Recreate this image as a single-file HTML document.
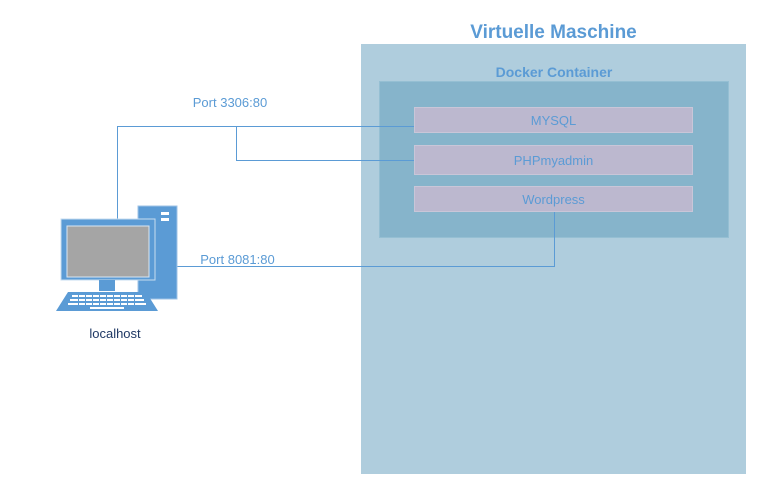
<!DOCTYPE html>
<html><head><style>
body{margin:0;width:779px;height:504px;background:#fff;position:relative;font-family:"Liberation Sans",sans-serif;overflow:hidden}
div{position:absolute;box-sizing:border-box}
.t{color:#5b9bd5;text-align:center;font-size:13px}
.b{background:#bcb8cf;border:1px solid #c9c6d8;display:flex;align-items:center;justify-content:center;color:#5b9bd5;font-size:13px}
</style></head><body>
<div class="t" style="left:361px;top:22px;width:385px;font-size:19px;font-weight:bold">Virtuelle Maschine</div>
<div style="left:361px;top:44px;width:385px;height:430px;background:#afcddd"></div>
<div class="t" style="left:379px;top:64px;width:350px;font-size:14px;font-weight:bold">Docker Container</div>
<div style="left:379px;top:81px;width:350px;height:157px;background:#86b4cb;border:1px solid #95bfd3"></div>
<div class="b" style="left:414px;top:107px;width:279px;height:26px">MYSQL</div>
<div class="b" style="left:414px;top:145px;width:279px;height:30px">PHPmyadmin</div>
<div class="b" style="left:414px;top:186px;width:279px;height:26px">Wordpress</div>
<div class="t" style="left:180px;top:95px;width:100px">Port 3306:80</div>
<div class="t" style="left:185px;top:252px;width:105px">Port 8081:80</div>
<svg style="position:absolute;left:0;top:0" width="779" height="504">
<g stroke="#5b9bd5" stroke-width="1" fill="none">
<polyline points="117.5,219 117.5,126.5 414,126.5"/>
<polyline points="236.5,126.5 236.5,160.5 414,160.5"/>
<polyline points="177,266.5 554.5,266.5 554.5,212"/>
</g>
<g fill="#5b9bd5">
<rect x="138" y="206" width="39" height="93" stroke="#9fc3e6" stroke-width="1"/>
<rect x="61" y="219" width="94" height="61" stroke="#c7dcf0" stroke-width="1"/>
<rect x="99" y="280" width="16" height="11"/>
<polygon points="68,292 146,292 158,311 56,311"/>
</g>
<rect x="67" y="226" width="82" height="51" fill="#a5a5a5" stroke="#d8e6f3"/>
<rect x="161" y="212" width="8" height="3" fill="#fff"/>
<rect x="161" y="218" width="8" height="3" fill="#fff"/>
<g fill="#fff">
<rect x="72" y="295" width="70" height="2"/><rect x="70" y="299" width="74" height="2"/><rect x="68" y="303" width="78" height="2"/><rect x="90" y="307" width="34" height="2"/>
</g>
<g fill="#5b9bd5">
<rect x="78" y="295" width="1" height="10"/><rect x="85" y="295" width="1" height="10"/><rect x="92" y="295" width="1" height="10"/><rect x="99" y="295" width="1" height="10"/><rect x="106" y="295" width="1" height="10"/><rect x="113" y="295" width="1" height="10"/><rect x="120" y="295" width="1" height="10"/><rect x="127" y="295" width="1" height="10"/><rect x="134" y="295" width="1" height="10"/>
</g>
</svg>
<div style="left:70px;top:326px;width:90px;text-align:center;font-size:13px;color:#1f3864">localhost</div>
</body></html>
